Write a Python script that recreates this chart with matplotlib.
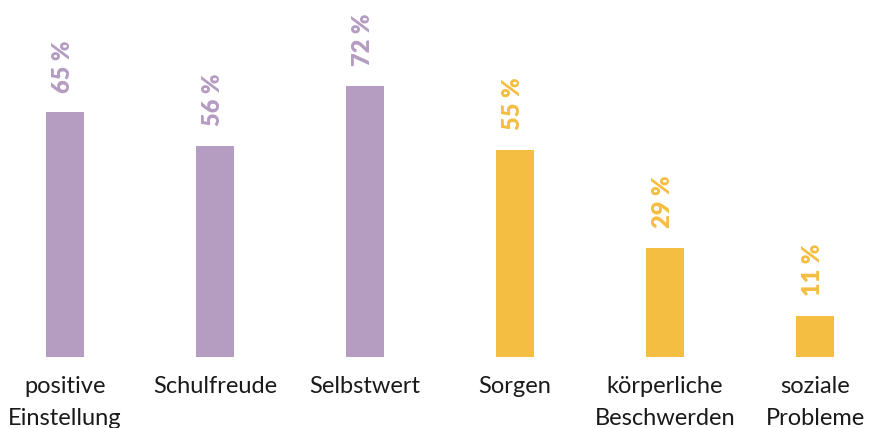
import numpy as np
import matplotlib.pyplot as plt

categories = ['positive\nEinstellung', 'Schulfreude', 'Selbstwert', 'Sorgen',
              'körperliche\nBeschwerden', 'soziale\nProbleme']
values = [65, 56, 72, 55, 29, 11]
groups = ['pos', 'pos', 'pos', 'neg', 'neg', 'neg']

colors = {'pos': '#b59cc1', 'neg': '#f4be42'}
fonts = ['Lato', 'DejaVu Sans']

fig = plt.figure(figsize=(8.77, 4.28), dpi=100)
ax = fig.add_axes([0, 71 / 428, 1, 357 / 428])

x = np.arange(len(categories))
bar_colors = [colors[g] for g in groups]
bars = ax.bar(x, values, 0.253, color=bar_colors)

for rect, val, col in zip(bars, values, bar_colors):
    ax.annotate('{} %'.format(val),
                xy=(rect.get_x() + rect.get_width() / 2, rect.get_height()),
                xytext=(-1.5, 14), textcoords='offset points',
                ha='center', va='bottom', rotation=90,
                fontsize=17, fontweight='heavy', color=col, family=fonts)

ax.set_xlim(-65 / 150, 812 / 150)
ax.set_ylim(0, 357 / 3.77)
ax.set_xticks(x)
ax.set_xticklabels(categories, fontsize=17, color='#1a1a1a', family=fonts,
                   linespacing=1.62)
ax.tick_params(axis='x', length=0, pad=14)
ax.set_yticks([])
for s in ax.spines.values():
    s.set_visible(False)

plt.savefig('out.png', dpi=100)
